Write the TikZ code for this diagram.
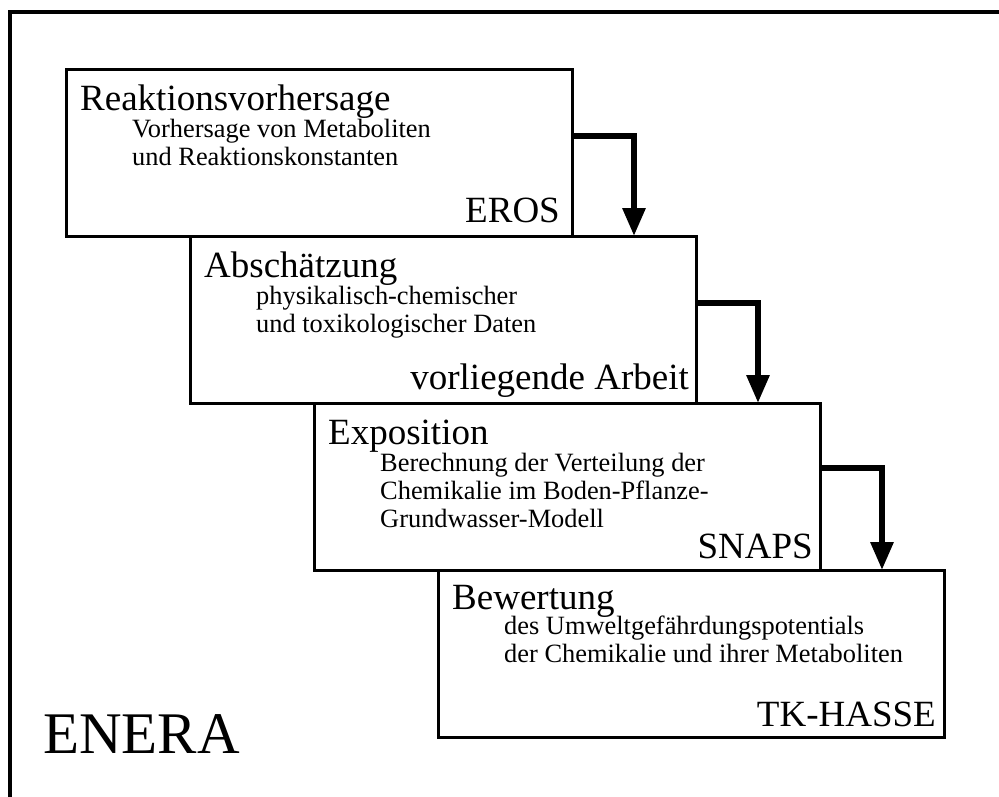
\documentclass[tikz,border=0pt]{standalone}
\usepackage{fontspec}
\setmainfont{Liberation Serif}
\usetikzlibrary{arrows.meta,calc}
\begin{document}
\begin{tikzpicture}[x=1pt,y=-1pt,
  stage/.style={draw=black, line width=3pt, fill=white, minimum width=506pt, minimum height=167pt, inner sep=0pt, outer sep=0pt, anchor=north west},
  ttl/.style={font=\fontsize{37}{40}\selectfont, inner sep=0pt, anchor=base west},
  sub/.style={font=\fontsize{26.4}{30}\selectfont, inner sep=0pt, anchor=base west},
  tool/.style={font=\fontsize{37}{40}\selectfont, inner sep=0pt, anchor=base east},
  flow/.style={line width=6pt, -{Triangle[width=22pt,length=28pt]}}
]
\useasboundingbox (0,0) rectangle (999,796);
\draw[line width=3.5pt] (10,800) -- (10,12) -- (1003,12);

\node[stage] (b4) at (438,570) {};
\node[stage] (b3) at (314,403) {};
\node[stage] (b2) at (190,236) {};
\node[stage] (b1) at (66,69) {};

% box 1
\node[ttl] (h1) at ([shift={(14pt,-41pt)}]b1.north west) {Reaktionsvorhersage};
\node[sub] (s1a) at ([shift={(66pt,-68pt)}]b1.north west) {Vorhersage von Metaboliten};
\node[sub] (s1b) at ([shift={(66pt,-96pt)}]b1.north west) {und Reaktionskonstanten};
\node[tool] (t1) at ([shift={(-12pt,14pt)}]b1.south east) {EROS};

% box 2
\node[ttl] (h2) at ([shift={(14pt,-41pt)}]b2.north west) {Absch\"atzung};
\node[sub] (s2a) at ([shift={(66pt,-68pt)}]b2.north west) {physikalisch-chemischer};
\node[sub] (s2b) at ([shift={(66pt,-96pt)}]b2.north west) {und toxikologischer Daten};
\node[tool] (t2) at ([shift={(-7pt,14pt)}]b2.south east) {vorliegende Arbeit};

% box 3
\node[ttl] (h3) at ([shift={(14pt,-41pt)}]b3.north west) {Exposition};
\node[sub] (s3a) at ([shift={(66pt,-68pt)}]b3.north west) {Berechnung der Verteilung der};
\node[sub] (s3b) at ([shift={(66pt,-96pt)}]b3.north west) {Chemikalie im Boden-Pflanze-};
\node[sub] (s3c) at ([shift={(66pt,-124pt)}]b3.north west) {Grundwasser-Modell};
\node[tool] (t3) at ([shift={(-7pt,12pt)}]b3.south east) {SNAPS};

% box 4
\node[ttl] (h4) at ([shift={(14pt,-39pt)}]b4.north west) {Bewertung};
\node[sub] (s4a) at ([shift={(66pt,-64pt)}]b4.north west) {des Umweltgef\"ahrdungspotentials};
\node[sub] (s4b) at ([shift={(66pt,-92pt)}]b4.north west) {der Chemikalie und ihrer Metaboliten};
\node[tool] (t4) at ([shift={(-8pt,11pt)}]b4.south east) {TK-HASSE};

% arrows
\coordinate (a1) at ($(b1.north east)!0.4!(b1.south east)$);
\coordinate (e1) at ([xshift=62pt]b1.south east);
\draw[flow] (a1) -| (e1);
\coordinate (a2) at ($(b2.north east)!0.4!(b2.south east)$);
\coordinate (e2) at ([xshift=62pt]b2.south east);
\draw[flow] (a2) -| (e2);
\coordinate (a3) at ($(b3.north east)!0.39!(b3.south east)$);
\coordinate (e3) at ([xshift=62pt]b3.south east);
\draw[flow] (a3) -| (e3);

\node[font=\fontsize{59}{64}\selectfont, inner sep=0pt, anchor=base west] (enera) at (43,753) {ENERA};
\end{tikzpicture}
\end{document}
